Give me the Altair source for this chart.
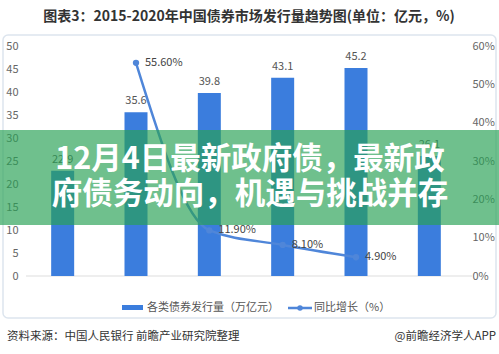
import altair as alt
import pandas as pd

# ---- data ----
years = ["2015", "2016", "2017", "2018", "2019", "2020H1"]
issuance = [22.9, 35.6, 39.8, 43.1, 45.2, 26.1]
growth_years = ["2016", "2017", "2018", "2019"]
growth = [55.6, 11.9, 8.1, 4.9]
growth_labels = ["55.60%", "11.90%", "8.10%", "4.90%"]
left_ticks = [0, 5, 10, 15, 20, 25, 30, 35, 40, 45, 50]
right_ticks = [0, 10, 20, 30, 40, 50, 60]

title_text = "图表3：2015-2020年中国债券市场发行量趋势图(单位：亿元，%)"
legend_bar = "各类债券发行量（万亿元）"
legend_line = "同比增长（%）"
source_text = "资料来源：中国人民银行 前瞻产业研究院整理"
credit_text = "@前瞻经济学人APP"
banner_lines = ["12月4日最新政府债，最新政", "府债务动向，机遇与挑战并存"]

bars_df = pd.DataFrame({"year": years, "value": issuance})
line_df = pd.DataFrame({"year": growth_years, "rate": growth, "label": growth_labels})
one = pd.DataFrame({"k": [0]})

FONT = "Noto Sans CJK SC"
BAR = "#3b7ddd"
LINE = "#4f86d9"

W, H = 440, 230
PL, PT = 26, 46

xs = alt.Scale(domain=years, paddingInner=0, paddingOuter=0)
x_axis = alt.X("year:N", sort=years, scale=xs,
               axis=alt.Axis(title=None, labelAngle=0, domain=False, ticks=False,
                             labelPadding=7, labelFontSize=11, labelColor="#555",
                             labelFont=FONT))
x_noaxis = alt.X("year:N", sort=years, scale=xs, axis=None)

ls = alt.Scale(domain=[0, 50], nice=False)
rs = alt.Scale(domain=[0, 60], nice=False)

bars = alt.Chart(bars_df).mark_bar(size=23, color=BAR).encode(
    x=x_axis,
    y=alt.Y("value:Q", scale=ls,
            axis=alt.Axis(title=None, values=left_ticks, domain=False, ticks=False,
                          grid=False, labelPadding=8, labelFontSize=11,
                          labelColor="#666", labelFont=FONT, orient="left")),
)
bar_text = alt.Chart(bars_df).mark_text(dy=-11, fontSize=11, color="#555", font=FONT).encode(
    x=x_noaxis,
    y=alt.Y("value:Q", scale=ls, axis=None),
    text=alt.Text("value:Q", format=".1f"),
)

line = alt.Chart(line_df).mark_line(color=LINE, strokeWidth=2.5, interpolate="monotone").encode(
    x=x_noaxis,
    y=alt.Y("rate:Q", scale=rs,
            axis=alt.Axis(title=None, values=right_ticks, domain=False, ticks=False,
                          grid=False, labelPadding=6, labelFontSize=11,
                          labelColor="#666", labelFont=FONT, orient="right",
                          labelExpr="datum.value + '%'")),
)
points = alt.Chart(line_df).mark_circle(size=40, color=LINE, opacity=1).encode(
    x=x_noaxis, y=alt.Y("rate:Q", scale=rs, axis=None))
line_text = alt.Chart(line_df).mark_text(dx=9, align="left", fontSize=11, color="#444", font=FONT).encode(
    x=x_noaxis, y=alt.Y("rate:Q", scale=rs, axis=None), text="label:N")

baseline = alt.Chart(one).mark_rule(color="#dddddd", strokeWidth=1).encode(
    x=alt.value(0), x2=alt.value(446), y=alt.value(H))

border = alt.Chart(one).mark_rect(fill="white", fillOpacity=0, stroke="#dde5ee",
                                  strokeWidth=1.5, cornerRadius=5).encode(
    x=alt.value(3 - PL), x2=alt.value(496 - PL), y=alt.value(35 - PT), y2=alt.value(318 - PT))

title = alt.Chart(one).mark_text(fontSize=14, fontWeight="bold", color="#333", font=FONT).encode(
    x=alt.value(249 - PL), y=alt.value(17 - PT), text=alt.value(title_text))

leg_rect = alt.Chart(one).mark_rect(color=BAR).encode(
    x=alt.value(122 - PL), x2=alt.value(143 - PL), y=alt.value(305 - PT), y2=alt.value(310 - PT))
leg_text1 = alt.Chart(one).mark_text(align="left", fontSize=11, color="#555", font=FONT).encode(
    x=alt.value(147 - PL), y=alt.value(308 - PT), text=alt.value(legend_bar))
leg_line = alt.Chart(one).mark_rule(color=LINE, strokeWidth=2.5).encode(
    x=alt.value(288 - PL), x2=alt.value(312 - PL), y=alt.value(308 - PT))
leg_pt = alt.Chart(one).mark_circle(size=30, color=LINE, opacity=1).encode(
    x=alt.value(300 - PL), y=alt.value(308 - PT))
leg_text2 = alt.Chart(one).mark_text(align="left", fontSize=11, color="#555", font=FONT).encode(
    x=alt.value(314 - PL), y=alt.value(308 - PT), text=alt.value(legend_line))

source = alt.Chart(one).mark_text(align="left", fontSize=11.5, color="#333", font=FONT).encode(
    x=alt.value(7 - PL), y=alt.value(337 - PT), text=alt.value(source_text))
credit = alt.Chart(one).mark_text(align="right", fontSize=11.5, color="#333", font=FONT).encode(
    x=alt.value(496 - PL), y=alt.value(337 - PT), text=alt.value(credit_text))

banner = alt.Chart(one).mark_rect(color="#28a155", opacity=0.67).encode(
    x=alt.value(-PL), x2=alt.value(499 - PL), y=alt.value(130 - PT), y2=alt.value(225 - PT))
banner_t1 = alt.Chart(one).mark_text(fontSize=30.5, fontWeight="bold", color="white", font=FONT).encode(
    x=alt.value(250 - PL), y=alt.value(160 - PT), text=alt.value(banner_lines[0]))
banner_t2 = alt.Chart(one).mark_text(fontSize=30.5, fontWeight="bold", color="white", font=FONT).encode(
    x=alt.value(250 - PL), y=alt.value(195 - PT), text=alt.value(banner_lines[1]))

chart = alt.layer(
    border, baseline, bars, bar_text, line, points, line_text,
    title, leg_rect, leg_text1, leg_line, leg_pt, leg_text2, source, credit,
    banner, banner_t1, banner_t2,
).resolve_scale(y="independent").properties(
    width=W, height=H,
    autosize=alt.AutoSizeParams(type="none"),
    padding={"left": PL, "top": PT, "right": 499 - PL - W, "bottom": 354 - PT - H},
    background="white",
).configure_view(stroke=None)

chart.save("out.html", embed_options={"renderer": "svg", "actions": False})
